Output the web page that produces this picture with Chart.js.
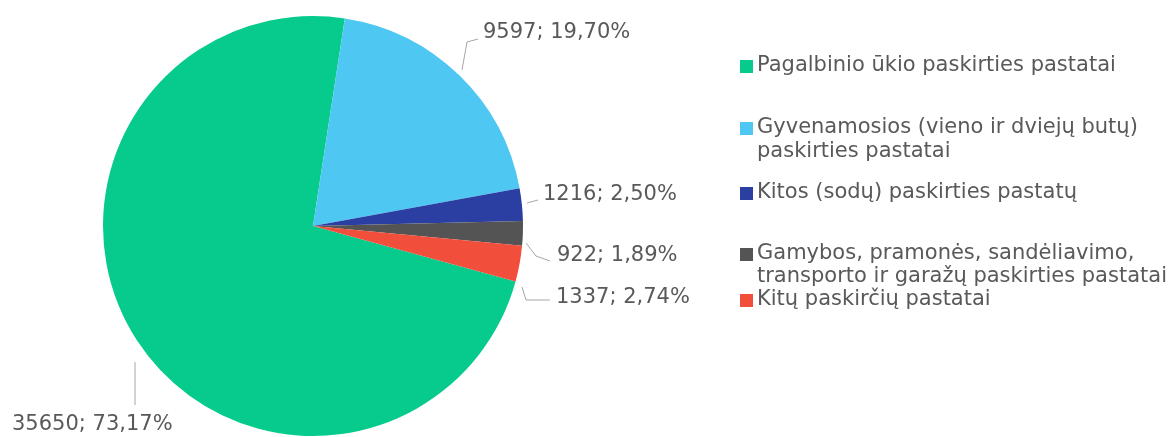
<!DOCTYPE html>
<html lang="lt">
<head>
<meta charset="utf-8">
<script src="https://cdn.jsdelivr.net/npm/chart.js@4"></script>
<style>
  html, body { margin: 0; padding: 0; background: #fff; }
  #wrap { position: relative; width: 1168px; height: 437px; }
</style>
</head>
<body>
<div id="wrap"><canvas id="pie"></canvas></div>
<script>
// Pastatų skaičius pagal paskirtį
const categories = [
    'Pagalbinio ūkio paskirties pastatai',
    'Gyvenamosios (vieno ir dviejų butų) paskirties pastatai',
    'Kitos (sodų) paskirties pastatų',
    'Gamybos, pramonės, sandėliavimo, transporto ir garažų paskirties pastatai',
    'Kitų paskirčių pastatai'
];
const counts = [35650, 9597, 1216, 922, 1337];
const shares = ['73,17%', '19,70%', '2,50%', '1,89%', '2,74%'];
const colors = ['#06CB8C', '#4EC8F2', '#2B3FA3', '#545454', '#F24E3C'];

// legend lines (wrapped as in the layout)
const legendLines = [
    ['Pagalbinio ūkio paskirties pastatai'],
    ['Gyvenamosios (vieno ir dviejų butų)', 'paskirties pastatai'],
    ['Kitos (sodų) paskirties pastatų'],
    ['Gamybos, pramonės, sandėliavimo,', 'transporto ir garažų paskirties pastatai'],
    ['Kitų paskirčių pastatai']
];
const legendY = [66, 128, 152, 193, 254, 277, 300];

// label text anchors and leader lines
const labelPos = [
    { x: 12, y: 425, line: [[135, 362], [135, 405]] },
    { x: 483, y: 33, line: [[462, 70], [467, 42], [478, 39]] },
    { x: 543, y: 195, line: [[527, 203], [538, 200]] },
    { x: 557, y: 256, line: [[526, 243], [536, 256], [550, 261]] },
    { x: 556, y: 298, line: [[522, 287], [526, 300], [550, 300]] }
];

const textColor = '#595959';
const font = '21px "DejaVu Sans"';

// Draw data labels and the legend on the canvas
const labelPlugin = {
    id: 'labels',
    afterDraw(chart) {
        const ctx = chart.ctx;
        ctx.save();
        ctx.font = font;
        ctx.textBaseline = 'middle';
        ctx.textAlign = 'left';

        // leader lines
        ctx.strokeStyle = '#A6A6A6';
        ctx.lineWidth = 1;
        labelPos.forEach(p => {
            ctx.beginPath();
            p.line.forEach((pt, i) => i ? ctx.lineTo(pt[0], pt[1]) : ctx.moveTo(pt[0], pt[1]));
            ctx.stroke();
        });

        // value labels
        ctx.fillStyle = textColor;
        counts.forEach((v, i) => {
            ctx.fillText(v + '; ' + shares[i], labelPos[i].x, labelPos[i].y);
        });

        // legend
        let row = 0;
        legendLines.forEach((lines, i) => {
            const y0 = legendY[row];
            ctx.fillStyle = colors[i];
            ctx.fillRect(740, y0 - 6, 13, 13);
            ctx.fillStyle = textColor;
            lines.forEach(t => {
                ctx.fillText(t, 757, legendY[row]);
                row++;
            });
        });
        ctx.restore();
    }
};

new Chart(document.getElementById('pie'), {
    type: 'pie',
    data: {
        labels: categories,
        datasets: [{
            data: counts,
            backgroundColor: colors,
            borderWidth: 0
        }]
    },
    options: {
        responsive: true,
        maintainAspectRatio: false,
        animation: false,
        rotation: 105.3,
        layout: {
            padding: { left: 103, right: 645, top: 16, bottom: 1 }
        },
        plugins: {
            legend: { display: false },
            tooltip: { enabled: false }
        }
    },
    plugins: [labelPlugin]
});
</script>
</body>
</html>
